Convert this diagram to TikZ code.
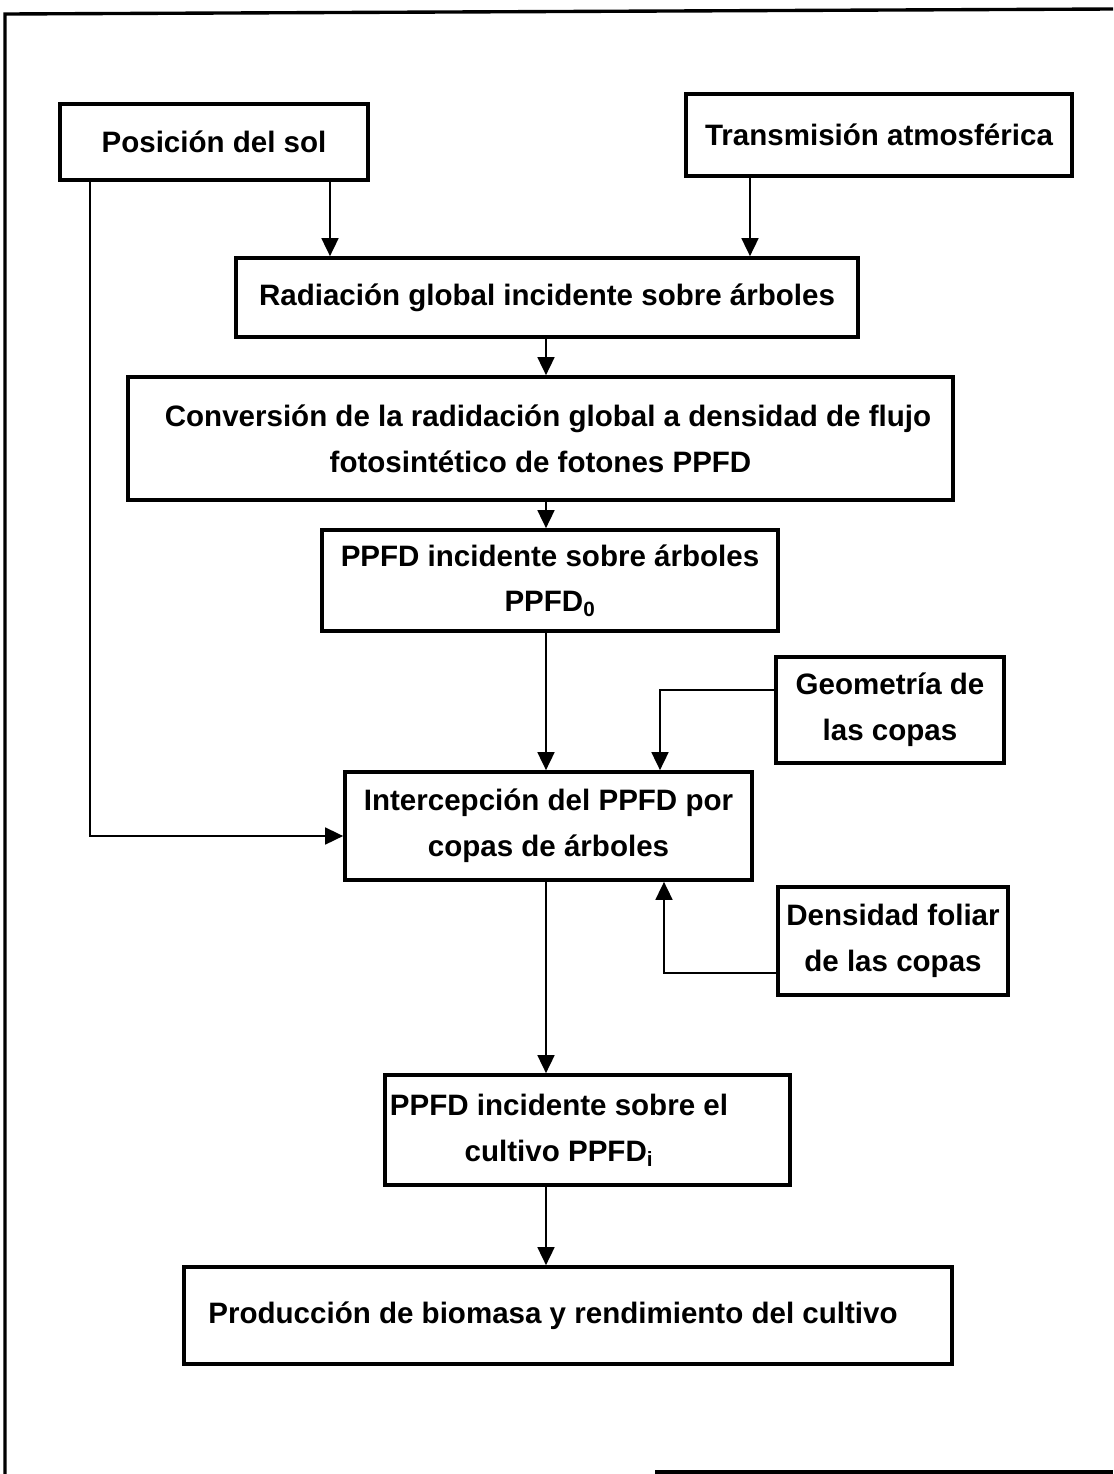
\documentclass[tikz,border=0pt]{standalone}
\usepackage{fontspec}
\setmainfont{Liberation Sans}
\usetikzlibrary{arrows.meta}
\newdimen\pxu \pxu=0.025cm
\begin{document}
\begin{tikzpicture}[x=0.025cm,y=-0.025cm,
  box/.style={draw,line width=2.6pt,rectangle,inner sep=0pt,align=center,
    font=\fontsize{21}{32.5}\selectfont\bfseries},
  arr/.style={line width=1.6pt,-{Triangle[length=0.45cm,width=0.42cm]}},
  frameline/.style={line width=2.4pt}]
\useasboundingbox (0,0) rectangle (1113,1474);
% outer frame
\coordinate (fTL) at (5,14);
\coordinate (fTR) at (1113,9);
\coordinate (fBL) at (5,1474);
\coordinate (fB1) at (655,1472);
\coordinate (fB2) at (1113,1472);
\draw[frameline] (fBL) -- (fTL) -- (fTR);
\draw[frameline] (fB1) -- (fB2);
% boxes
\node[box,minimum width=308\pxu,minimum height=76\pxu] (pos) at (214,142) {Posición del sol};
\node[box,minimum width=386\pxu,minimum height=82\pxu] (trans) at (879,135) {Transmisión atmosférica};
\node[box,minimum width=622\pxu,minimum height=79\pxu] (rad) at (547,297.5) {Radiación global incidente sobre árboles};
\node[box,minimum width=825\pxu,minimum height=123\pxu] (conv) at (540.5,438.5) {\hspace*{15\pxu}Conversión de la radidación global a densidad de flujo\\fotosintético de fotones PPFD};
\node[box,minimum width=456\pxu,minimum height=101\pxu] (ppfd0) at (550,580.5) {PPFD incidente sobre árboles\\PPFD\textsubscript{0}};
\node[box,minimum width=228\pxu,minimum height=106\pxu] (geo) at (890,710) {Geometría de\\las copas};
\node[box,minimum width=407\pxu,minimum height=108\pxu] (inter) at (548.5,826) {Intercepción del PPFD por\\copas de árboles};
\node[box,minimum width=230\pxu,minimum height=108\pxu] (dens) at (893,941) {Densidad foliar\\de las copas};
\node[box,minimum width=405\pxu,minimum height=110\pxu] (cult) at (587.5,1130) {PPFD incidente sobre el\hspace*{57\pxu}\\cultivo PPFD\textsubscript{i}\hspace*{57\pxu}};
\node[box,minimum width=768\pxu,minimum height=97\pxu] (prod) at (568,1315.5) {Producción de biomasa y rendimiento del cultivo\hspace*{30\pxu}};
% x positions of connectors
\coordinate (x90) at (90,0);
\coordinate (x330) at (330,0);
\coordinate (x750) at (750,0);
\coordinate (x546) at (546,0);
\coordinate (x660) at (660,0);
\coordinate (x664) at (664,0);
% connectors
\draw[arr] (pos.south -| x330) -- (rad.north -| x330);
\draw[arr] (trans.south -| x750) -- (rad.north -| x750);
\draw[arr] (pos.south -| x90) |- ([yshift=-10\pxu]inter.west);
\draw[arr] (rad.south -| x546) -- (conv.north -| x546);
\draw[arr] (conv.south -| x546) -- (ppfd0.north -| x546);
\draw[arr] (ppfd0.south -| x546) -- (inter.north -| x546);
\draw[arr] ([yshift=20\pxu]geo.west) -| (inter.north -| x660);
\draw[arr] ([yshift=-32\pxu]dens.west) -| (inter.south -| x664);
\draw[arr] (inter.south -| x546) -- (cult.north -| x546);
\draw[arr] (cult.south -| x546) -- (prod.north -| x546);
\end{tikzpicture}
\end{document}
